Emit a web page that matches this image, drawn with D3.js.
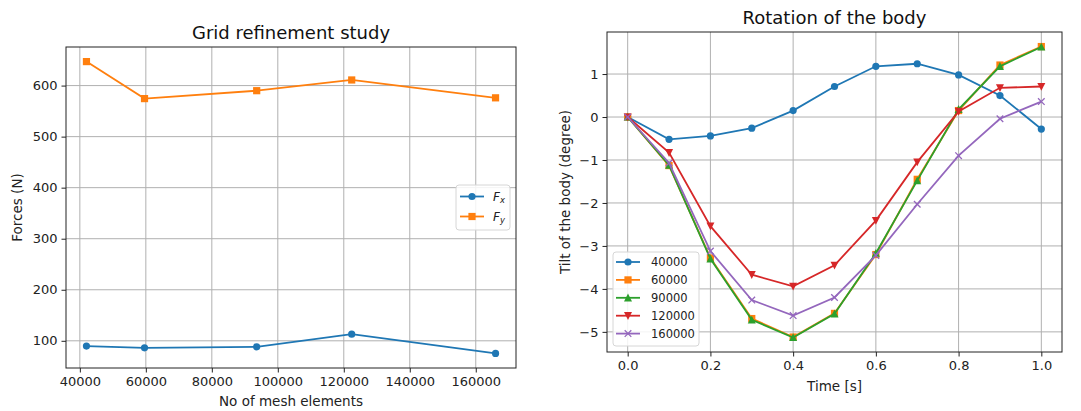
<!DOCTYPE html>
<html>
<head>
<meta charset="utf-8">
<script src="https://cdn.jsdelivr.net/npm/d3@7"></script>
<style>
  html, body { margin: 0; padding: 0; background: #fff; }
  svg { display: block; font-family: "DejaVu Sans", sans-serif; }
</style>
</head>
<body>
<svg id="fig" width="1081" height="411"></svg>
<script>
// ---- Grid refinement study ----
const meshElements = [42000, 59600, 93600, 122400, 166000];
const forceX = [89.6, 86.3, 88.2, 113, 75.3];
const forceY = [647, 574.5, 590, 611, 576];
const meshTicks = [40000, 60000, 80000, 100000, 120000, 140000, 160000];
const forceTicks = [100, 200, 300, 400, 500, 600];

// ---- Rotation of the body ----
const time = [0.0, 0.1, 0.2, 0.3, 0.4, 0.5, 0.6, 0.7, 0.8, 0.9, 1.0];
const tilt40000  = [0, -0.52, -0.44, -0.26, 0.15, 0.71, 1.18, 1.24, 0.98, 0.50, -0.28];
const tilt60000  = [0, -1.13, -3.28, -4.69, -5.12, -4.57, -3.20, -1.45, 0.15, 1.21, 1.64];
const tilt90000  = [0, -1.12, -3.30, -4.72, -5.13, -4.58, -3.17, -1.48, 0.18, 1.18, 1.63];
const tilt120000 = [0, -0.83, -2.54, -3.67, -3.94, -3.45, -2.41, -1.05, 0.13, 0.68, 0.71];
const tilt160000 = [0, -1.07, -3.12, -4.26, -4.62, -4.20, -3.22, -2.03, -0.90, -0.04, 0.36];
const tiltLabels = ["40000", "60000", "90000", "120000", "160000"];
const timeTicks = [0.0, 0.2, 0.4, 0.6, 0.8, 1.0];
const tiltTicks = [-5, -4, -3, -2, -1, 0, 1];

const C = {blue: "#1f77b4", orange: "#ff7f0e", green: "#2ca02c", red: "#d62728", purple: "#9467bd"};
const svg = d3.select("#fig");

function padDomain(vals, frac) {
  const [a, b] = d3.extent(vals);
  const m = (b - a) * frac;
  return [a - m, b + m];
}

function drawMarker(g, shape, x, y, color) {
  const s = 3.6;
  if (shape === "o") {
    g.append("circle").attr("cx", x).attr("cy", y).attr("r", s).attr("fill", color);
  } else if (shape === "s") {
    g.append("rect").attr("x", x - s).attr("y", y - s).attr("width", 2 * s).attr("height", 2 * s).attr("fill", color);
  } else if (shape === "^") {
    g.append("path").attr("d", `M${x},${y - s - 0.6}L${x - s - 0.4},${y + s}L${x + s + 0.4},${y + s}Z`).attr("fill", color);
  } else if (shape === "v") {
    g.append("path").attr("d", `M${x},${y + s + 0.6}L${x - s - 0.4},${y - s}L${x + s + 0.4},${y - s}Z`).attr("fill", color);
  } else if (shape === "x") {
    const t = 3.3;
    g.append("path").attr("d", `M${x - t},${y - t}L${x + t},${y + t}M${x - t},${y + t}L${x + t},${y - t}`)
      .attr("stroke", color).attr("stroke-width", 1.3).attr("fill", "none");
  }
}

function panel(opt) {
  const {left, right, top, bottom} = opt.box;
  const x = d3.scaleLinear().domain(opt.xDomain).range([left, right]);
  const y = d3.scaleLinear().domain(opt.yDomain).range([bottom, top]);
  const g = svg.append("g");

  // grid
  g.append("g").selectAll("line").data(opt.xTicks).join("line")
    .attr("x1", d => x(d)).attr("x2", d => x(d)).attr("y1", top).attr("y2", bottom)
    .attr("stroke", "#b0b0b0").attr("stroke-width", 1);
  g.append("g").selectAll("line").data(opt.yTicks).join("line")
    .attr("y1", d => y(d)).attr("y2", d => y(d)).attr("x1", left).attr("x2", right)
    .attr("stroke", "#b0b0b0").attr("stroke-width", 1);

  // series
  const clip = "clip" + opt.id;
  svg.append("clipPath").attr("id", clip).append("rect")
    .attr("x", left).attr("y", top).attr("width", right - left).attr("height", bottom - top);
  const data = g.append("g").attr("clip-path", `url(#${clip})`);
  opt.series.forEach(s => {
    const pts = opt.xs.map((xv, i) => [xv, s.values[i]]);
    data.append("path").datum(pts)
      .attr("d", d3.line().x(d => x(d[0])).y(d => y(d[1])))
      .attr("fill", "none").attr("stroke", s.color).attr("stroke-width", 1.8);
    pts.forEach(p => drawMarker(data, s.marker, x(p[0]), y(p[1]), s.color));
  });

  // axes
  const xAxis = g.append("g").attr("transform", `translate(0,${bottom})`)
    .call(d3.axisBottom(x).tickValues(opt.xTicks).tickFormat(opt.xFormat).tickSize(4.5).tickPadding(4));
  const yAxis = g.append("g").attr("transform", `translate(${left},0)`)
    .call(d3.axisLeft(y).tickValues(opt.yTicks).tickFormat(opt.yFormat).tickSize(4.5).tickPadding(4));
  [xAxis, yAxis].forEach(a => {
    a.select(".domain").remove();
    a.selectAll("text").attr("font-size", 13).attr("fill", "#222").attr("font-family", "DejaVu Sans");
    a.selectAll("line").attr("stroke", "#222");
  });
  g.append("rect").attr("x", left).attr("y", top).attr("width", right - left).attr("height", bottom - top)
    .attr("fill", "none").attr("stroke", "#222").attr("stroke-width", 1);

  // labels
  g.append("text").attr("x", (left + right) / 2).attr("y", top - 8).attr("text-anchor", "middle")
    .attr("font-size", 18).attr("fill", "#111").text(opt.title);
  g.append("text").attr("x", (left + right) / 2).attr("y", opt.xLabelY).attr("text-anchor", "middle")
    .attr("font-size", 13.5).attr("fill", "#222").text(opt.xLabel);
  g.append("text").attr("transform", `translate(${opt.yLabelX},${(top + bottom) / 2}) rotate(-90)`)
    .attr("text-anchor", "middle").attr("font-size", 13.5).attr("fill", "#222").text(opt.yLabel);

  // legend
  const L = opt.legend;
  const lg = g.append("g");
  lg.append("rect").attr("x", L.x).attr("y", L.y).attr("width", L.w).attr("height", L.h).attr("rx", 3)
    .attr("fill", "rgba(255,255,255,0.85)").attr("stroke", "#d6d6d6").attr("stroke-width", 1);
  opt.series.forEach((s, i) => {
    const cy = L.y + L.first + i * L.step;
    lg.append("line").attr("x1", L.x + L.hx0).attr("x2", L.x + L.hx1).attr("y1", cy).attr("y2", cy)
      .attr("stroke", s.color).attr("stroke-width", 1.8);
    drawMarker(lg, s.marker, L.x + (L.hx0 + L.hx1) / 2, cy, s.color);
    const t = lg.append("text").attr("x", L.x + L.tx).attr("y", cy).attr("dy", "0.35em")
      .attr("font-size", L.fs).attr("fill", "#222");
    if (s.sub) {
      t.append("tspan").attr("font-style", "italic").text("F");
      t.append("tspan").attr("font-style", "italic").attr("font-size", L.fs * 0.7).attr("dy", "0.3em").text(s.sub);
    } else {
      t.text(s.label);
    }
  });
}

panel({
  id: "a",
  box: {left: 66, right: 516, top: 47, bottom: 368},
  xs: meshElements,
  xDomain: padDomain(meshElements, 0.05),
  yDomain: padDomain(forceX.concat(forceY), 0.05),
  xTicks: meshTicks, yTicks: forceTicks,
  xFormat: d3.format("d"), yFormat: d3.format("d"),
  title: "Grid refinement study",
  xLabel: "No of mesh elements", xLabelY: 406,
  yLabel: "Forces (N)", yLabelX: 22,
  series: [
    {values: forceX, color: C.blue, marker: "o", sub: "x"},
    {values: forceY, color: C.orange, marker: "s", sub: "y"}
  ],
  legend: {x: 456, y: 185, w: 54, h: 45, first: 11.5, step: 20, hx0: 4, hx1: 28, tx: 37, fs: 12}
});

const tiltSeries = [tilt40000, tilt60000, tilt90000, tilt120000, tilt160000];
const tiltColors = [C.blue, C.orange, C.green, C.red, C.purple];
const tiltMarkers = ["o", "s", "^", "v", "x"];
panel({
  id: "b",
  box: {left: 607, right: 1062, top: 32, bottom: 352},
  xs: time,
  xDomain: padDomain(time, 0.05),
  yDomain: padDomain(tiltSeries.flat(), 0.05),
  xTicks: timeTicks, yTicks: tiltTicks,
  xFormat: d3.format(".1f"), yFormat: d3.format("d"),
  title: "Rotation of the body",
  xLabel: "Time [s]", xLabelY: 391,
  yLabel: "Tilt of the body (degree)", yLabelX: 570,
  series: tiltSeries.map((v, i) => ({values: v, color: tiltColors[i], marker: tiltMarkers[i], label: tiltLabels[i]})),
  legend: {x: 613, y: 252, w: 86, h: 94, first: 10, step: 17.9, hx0: 3, hx1: 27, tx: 38, fs: 11.5}
});
</script>
</body>
</html>
